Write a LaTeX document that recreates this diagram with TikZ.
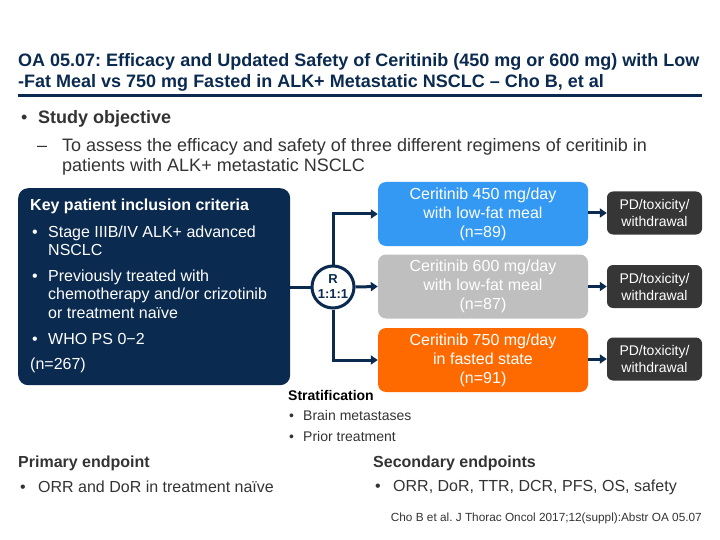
\documentclass[tikz,border=0pt]{standalone}
\usepackage{fontspec}
\setmainfont{Liberation Sans}
\usetikzlibrary{arrows.meta,positioning}
\frenchspacing

\definecolor{navy}{HTML}{0B2A4F}
\definecolor{armblue}{HTML}{3399F3}
\definecolor{armgray}{HTML}{BFBFBF}
\definecolor{armorange}{HTML}{FF6A00}
\definecolor{pdgray}{HTML}{363636}
\definecolor{bodytext}{HTML}{333333}

\newcommand\fsz[2]{\fontsize{#1}{#2}\selectfont}

\tikzset{
  txt/.style={anchor=base west, inner sep=0pt, text=bodytext, align=left},
  arm/.style={rounded corners=8pt, text=white, align=center, inner sep=0pt,
    minimum width=210pt, minimum height=64pt, font=\fsz{16}{19}},
  pdbox/.style={fill=pdgray, rounded corners=6pt, text=white, align=center, inner sep=0pt,
    minimum width=95pt, minimum height=43pt, font=\fsz{14}{17}},
  link/.style={navy, line width=3pt},
  flow/.style={link, -{Triangle[length=7pt,width=9pt]}},
}

\begin{document}
\begin{tikzpicture}[x=1pt,y=-1pt]
  \useasboundingbox (0,0) rectangle (720,540);

  % Title and rule
  \node[txt, text=navy, font=\bfseries\fsz{18}{20}] (title1) at (18,67)
    {OA 05.07: Efficacy and Updated Safety of Ceritinib (450 mg or 600 mg) with Low};
  \node[txt, text=navy, font=\bfseries\fsz{18}{20}] (title2) at (18,88)
    {-Fat Meal vs 750 mg Fasted in ALK+ Metastatic NSCLC -- Cho B, et al};
  \draw[navy, line width=3pt] (18,96) -- (702,96);

  % Study objective (multi-line nodes sit on their last baseline)
  \node[txt, font=\fsz{18}{20}] (objdot) at (21,124) {•};
  \node[txt, font=\bfseries\fsz{18}{20}] (objhead) at (38,124) {Study objective};
  \node[txt, font=\fsz{18}{20}] (objdash) at (37,152) {--};
  \node[txt, font=\fsz{18}{20}] (objtext) at (62,172)
    {To assess the efficacy and safety of three different regimens of ceritinib in\\patients with ALK+ metastatic NSCLC};

  % Inclusion criteria box
  \node[fill=navy, rounded corners=10pt, minimum width=272pt, minimum height=197pt,
    anchor=north west, inner sep=0pt] (crit) at (18,188) {};
  \node[txt, text=white, font=\bfseries\fsz{16}{18}] (crithead) at (30,211) {Key patient inclusion criteria};
  \node[txt, text=white, font=\fsz{16}{18.5}] (critdot1) at (32,237) {•};
  \node[txt, text=white, font=\fsz{16}{18.5}] (crit1) at (48,255.5) {Stage IIIB/IV ALK+ advanced\\NSCLC};
  \node[txt, text=white, font=\fsz{16}{18.5}] (critdot2) at (32,281) {•};
  \node[txt, text=white, font=\fsz{16}{18.5}] (crit2) at (48,318)
    {Previously treated with\\chemotherapy and/or crizotinib\\or treatment naïve};
  \node[txt, text=white, font=\fsz{16}{18.5}] (critdot3) at (32,344) {•};
  \node[txt, text=white, font=\fsz{16}{18.5}] (crit3) at (48,344) {WHO PS 0−2};
  \node[txt, text=white, font=\fsz{16}{18.5}] (critn) at (30,369) {(n=267)};

  % Randomisation
  \node[circle, draw=navy, line width=3pt, fill=white, minimum size=42pt, inner sep=0pt,
    align=center, text=navy, font=\bfseries\fsz{13}{15}] (rand) at (333,287) {R\\1:1:1};

  % Treatment arms
  \node[arm, fill=armblue] (arm1) at (483,214) {Ceritinib 450 mg/day\\with low-fat meal\\(n=89)};
  \node[arm, fill=armgray] (arm2) at (483,286.5) {Ceritinib 600 mg/day\\with low-fat meal\\(n=87)};
  \node[arm, fill=armorange] (arm3) at (483,360) {Ceritinib 750 mg/day\\in fasted state\\(n=91)};

  \node[pdbox] (pd1) at (654.5,213) {PD/toxicity/\\withdrawal};
  \node[pdbox] (pd2) at (654.5,286.5) {PD/toxicity/\\withdrawal};
  \node[pdbox] (pd3) at (654.5,359) {PD/toxicity/\\withdrawal};

  % Connectors
  \draw[link] (crit.east |- rand.west) -- (rand.west);
  \draw[flow] (rand.north) |- (arm1.west);
  \draw[flow] (rand.east) -- (arm2.west);
  \draw[flow] (rand.south) |- (arm3.west);
  \draw[flow] (arm1.east |- pd1.west) -- (pd1.west);
  \draw[flow] (arm2.east |- pd2.west) -- (pd2.west);
  \draw[flow] (arm3.east |- pd3.west) -- (pd3.west);

  % Stratification
  \node[txt, text=black, font=\bfseries\fsz{14}{16}] (strathead) at (288,400) {Stratification};
  \node[txt, font=\fsz{14}{16}] (stratdot1) at (289,420) {•};
  \node[txt, font=\fsz{14}{16}] (strat1) at (303,420) {Brain metastases};
  \node[txt, font=\fsz{14}{16}] (stratdot2) at (289,441) {•};
  \node[txt, font=\fsz{14}{16}] (strat2) at (303,441) {Prior treatment};

  % Endpoints
  \node[txt, font=\bfseries\fsz{16}{18}] (primhead) at (18,467) {Primary endpoint};
  \node[txt, font=\fsz{16}{18}] (primdot) at (20,492) {•};
  \node[txt, font=\fsz{16}{18}] (prim1) at (38,492) {ORR and DoR in treatment naïve};
  \node[txt, font=\bfseries\fsz{16}{18}] (sechead) at (373,467) {Secondary endpoints};
  \node[txt, font=\fsz{16}{18}] (secdot) at (375,491) {•};
  \node[txt, font=\fsz{16}{18}] (sec1) at (393,491) {ORR, DoR, TTR, DCR, PFS, OS, safety};

  % Reference
  \node[anchor=base east, inner sep=0pt, text=bodytext, font=\fsz{11.8}{13}] (cite) at (702,521)
    {Cho B et al. J Thorac Oncol 2017;12(suppl):Abstr OA 05.07};
\end{tikzpicture}
\end{document}
